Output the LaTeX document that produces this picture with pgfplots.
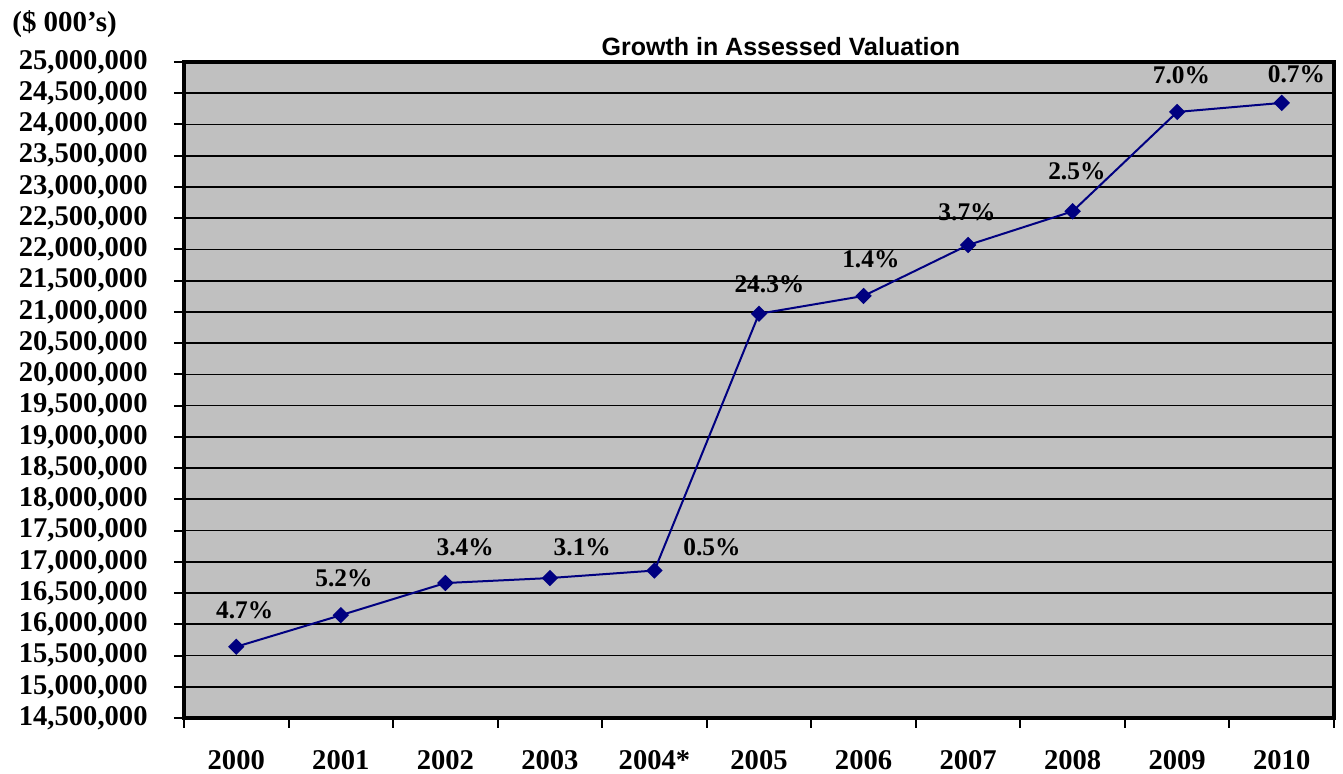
\documentclass[border=0pt]{standalone}
\usepackage{fontspec}
\setmainfont{Liberation Serif}
\newfontfamily\arialfont{Liberation Sans}
\usepackage{pgfplots}
\pgfplotsset{compat=1.18}
\definecolor{navyline}{RGB}{0,0,128}
\definecolor{plotgray}{RGB}{192,192,192}
\begin{document}
\begin{tikzpicture}
\begin{axis}[
  scale only axis,
  width=575pt, height=328pt,
  xmin=-0.5, xmax=10.5,
  ymin=14500000, ymax=25000000,
  axis background/.style={fill=plotgray},
  axis line style={black, line width=2.4pt},
  xtick={0,1,2,3,4,5,6,7,8,9,10},
  xticklabels={2000,2001,2002,2003,2004*,2005,2006,2007,2008,2009,2010},
  minor xtick={-0.5,0.5,1.5,2.5,3.5,4.5,5.5,6.5,7.5,8.5,9.5,10.5},
  major x tick style={draw=none},
  minor x tick style={black, line width=1pt},
  ytick={14500000,15000000,15500000,16000000,16500000,17000000,17500000,18000000,18500000,19000000,19500000,20000000,20500000,21000000,21500000,22000000,22500000,23000000,23500000,24000000,24500000,25000000},
  ytick style={black, line width=1pt},
  tick align=outside,
  major tick length=5pt,
  minor tick length=5pt,
  xtick pos=bottom, ytick pos=left,
  scaled y ticks=false,
  ymajorgrids,
  major grid style={black, line width=0.85pt},
  /pgf/number format/.cd, fixed, precision=0, 1000 sep={,}, assume math mode=true,
  /pgfplots/.cd,
  yticklabel style={font=\bfseries\fontsize{14.3}{16}\selectfont, inner sep=0pt, xshift=-13pt},
  xticklabel style={font=\bfseries\fontsize{14.3}{16}\selectfont, inner sep=0pt, anchor=north, yshift=-11pt},
  clip=false,
]
\addplot[navyline, line width=1pt, mark=square*, mark size=2.4pt, mark options={rotate=45, fill=navyline, draw=navyline}]
  coordinates {
  (0,15640000) (1,16145000) (2,16660000) (3,16740000) (4,16860000)
  (5,20970000) (6,21255000) (7,22070000) (8,22610000) (9,24200000) (10,24345000)
  };
\begin{scope}[every node/.style={font=\bfseries\fontsize{12.7}{14}\selectfont, inner sep=0pt}]
\node at (axis cs:0.08,16230000) {4.7\%};
\node at (axis cs:1.03,16740000) {5.2\%};
\node at (axis cs:2.19,17240000) {3.4\%};
\node at (axis cs:3.31,17240000) {3.1\%};
\node at (axis cs:4.55,17240000) {0.5\%};
\node at (axis cs:5.10,21440000) {24.3\%};
\node at (axis cs:6.07,21840000) {1.4\%};
\node at (axis cs:6.99,22590000) {3.7\%};
\node at (axis cs:8.04,23250000) {2.5\%};
\node at (axis cs:9.04,24790000) {7.0\%};
\node at (axis cs:10.14,24800000) {0.7\%};
\end{scope}
\node[font=\arialfont\bfseries\fontsize{12.5}{14}\selectfont, inner sep=0pt] at (axis description cs:0.519,1.0229) {Growth in Assessed Valuation};
\node[font=\bfseries\fontsize{14.5}{16}\selectfont, inner sep=0pt, anchor=west] at (axis description cs:-0.1496,1.058) {(\$ 000’s)};
\coordinate (bbl) at (axis description cs:-0.16,-0.08537);
\coordinate (btr) at (axis description cs:1.00783,1.0945);
\end{axis}
\pgfresetboundingbox
\path[use as bounding box] (bbl) rectangle (btr);
\end{tikzpicture}
\end{document}
